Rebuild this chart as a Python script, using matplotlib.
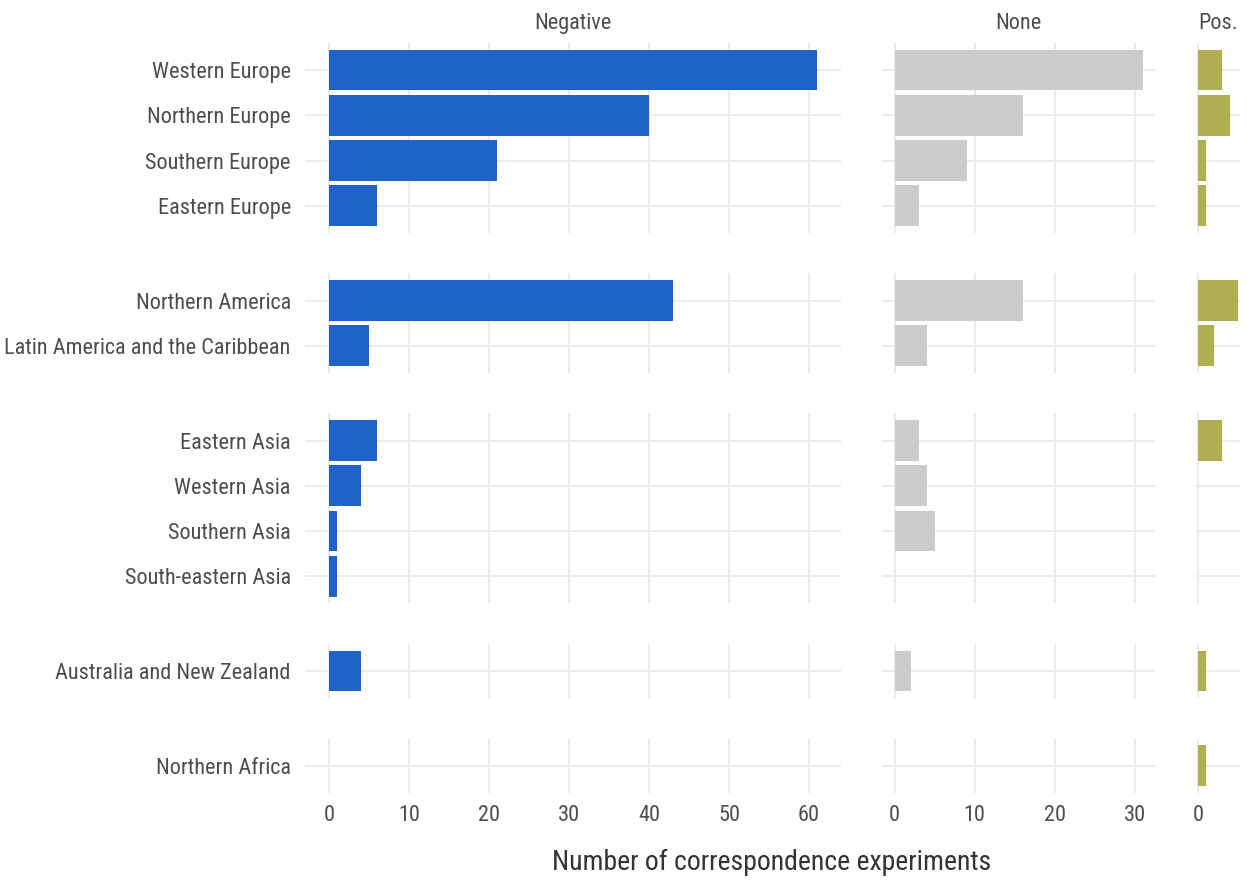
import os
import numpy as np
import matplotlib
matplotlib.use("Agg")
import matplotlib.pyplot as plt
from matplotlib import font_manager

# look for a narrow / condensed sans to match the reference
fam = ['DejaVu Sans']
stretch = 'normal'
for pat in ['liberationsansnarrow-regular', 'notosans-condensed.', 'robotocondensed-regular',
            'dejavusanscondensed.ttf', 'condensed', 'narrow']:
    hits = [f for f in font_manager.fontManager.ttflist
            if pat in os.path.basename(f.fname).lower()
            and 'bold' not in os.path.basename(f.fname).lower()
            and 'italic' not in os.path.basename(f.fname).lower()
            and 'oblique' not in os.path.basename(f.fname).lower()]
    if hits:
        fam = [hits[0].name, 'DejaVu Sans']
        stretch = hits[0].stretch
        break
plt.rcParams['font.family'] = fam
plt.rcParams['font.stretch'] = stretch

# region groups (rows of the grid), top to bottom
groups = [
    ["Western Europe", "Northern Europe", "Southern Europe", "Eastern Europe"],
    ["Northern America", "Latin America and the Caribbean"],
    ["Eastern Asia", "Western Asia", "Southern Asia", "South-eastern Asia"],
    ["Australia and New Zealand"],
    ["Northern Africa"],
]

effects = ["Negative", "None", "Pos."]

# counts per group, same order as regions above
negative = [[61, 40, 21, 6], [43, 5], [6, 4, 1, 1], [4], [0]]
none = [[31, 16, 9, 3], [16, 4], [3, 4, 5, 0], [2], [0]]
positive = [[3, 4, 1, 1], [5, 2], [3, 0, 0, 0], [1], [1]]

values = [negative, none, positive]
colors = ["#1F63C7", "#CCCCCC", "#AFAF52"]
xticks = [[0, 10, 20, 30, 40, 50, 60], [0, 10, 20, 30], [0]]

# free x-scale per column, with ggplot-like 5% expansion
xlims = []
for v in values:
    mx = max(max(g) for g in v)
    xlims.append((-0.05 * mx, mx * 1.05))
widths = [hi - lo for lo, hi in xlims]
heights = [len(g) + 0.2 for g in groups]

fig = plt.figure(figsize=(12.47, 8.83), dpi=100)
gs = fig.add_gridspec(len(groups), 3, width_ratios=widths, height_ratios=heights,
                      left=0.2443, right=0.9944, top=0.9513, bottom=0.102,
                      wspace=0.144, hspace=0.345)

grid_c = "#EBEBEB"
txt_c = "#4D4D4D"

for r, regs in enumerate(groups):
    for c in range(3):
        ax = fig.add_subplot(gs[r, c])
        y = np.arange(len(regs))
        ax.barh(y, values[c][r], height=0.9, color=colors[c], linewidth=0, zorder=2)
        ax.set_ylim(len(regs) - 0.4, -0.6)
        ax.set_xlim(*xlims[c])
        ax.set_xticks(xticks[c])
        ax.set_yticks(y)
        ax.grid(True, color=grid_c, linewidth=1.3, zorder=0)
        ax.set_axisbelow(True)
        for s in ax.spines.values():
            s.set_visible(False)
        ax.tick_params(length=0, colors=txt_c)
        ax.tick_params(axis='y', pad=10, labelsize=16)
        ax.tick_params(axis='x', pad=9, labelsize=16)
        if c == 0:
            ax.set_yticklabels(regs)
        else:
            ax.set_yticklabels([])
        if r != len(groups) - 1:
            ax.set_xticklabels([])
        if r == 0:
            ax.set_title(effects[c], fontsize=16, color=txt_c, pad=10)

fig.text(0.619, 1 - 862 / 883, "Number of correspondence experiments",
         ha='center', va='center', fontsize=20, color="#333333")

plt.savefig("out.png", dpi=100)
